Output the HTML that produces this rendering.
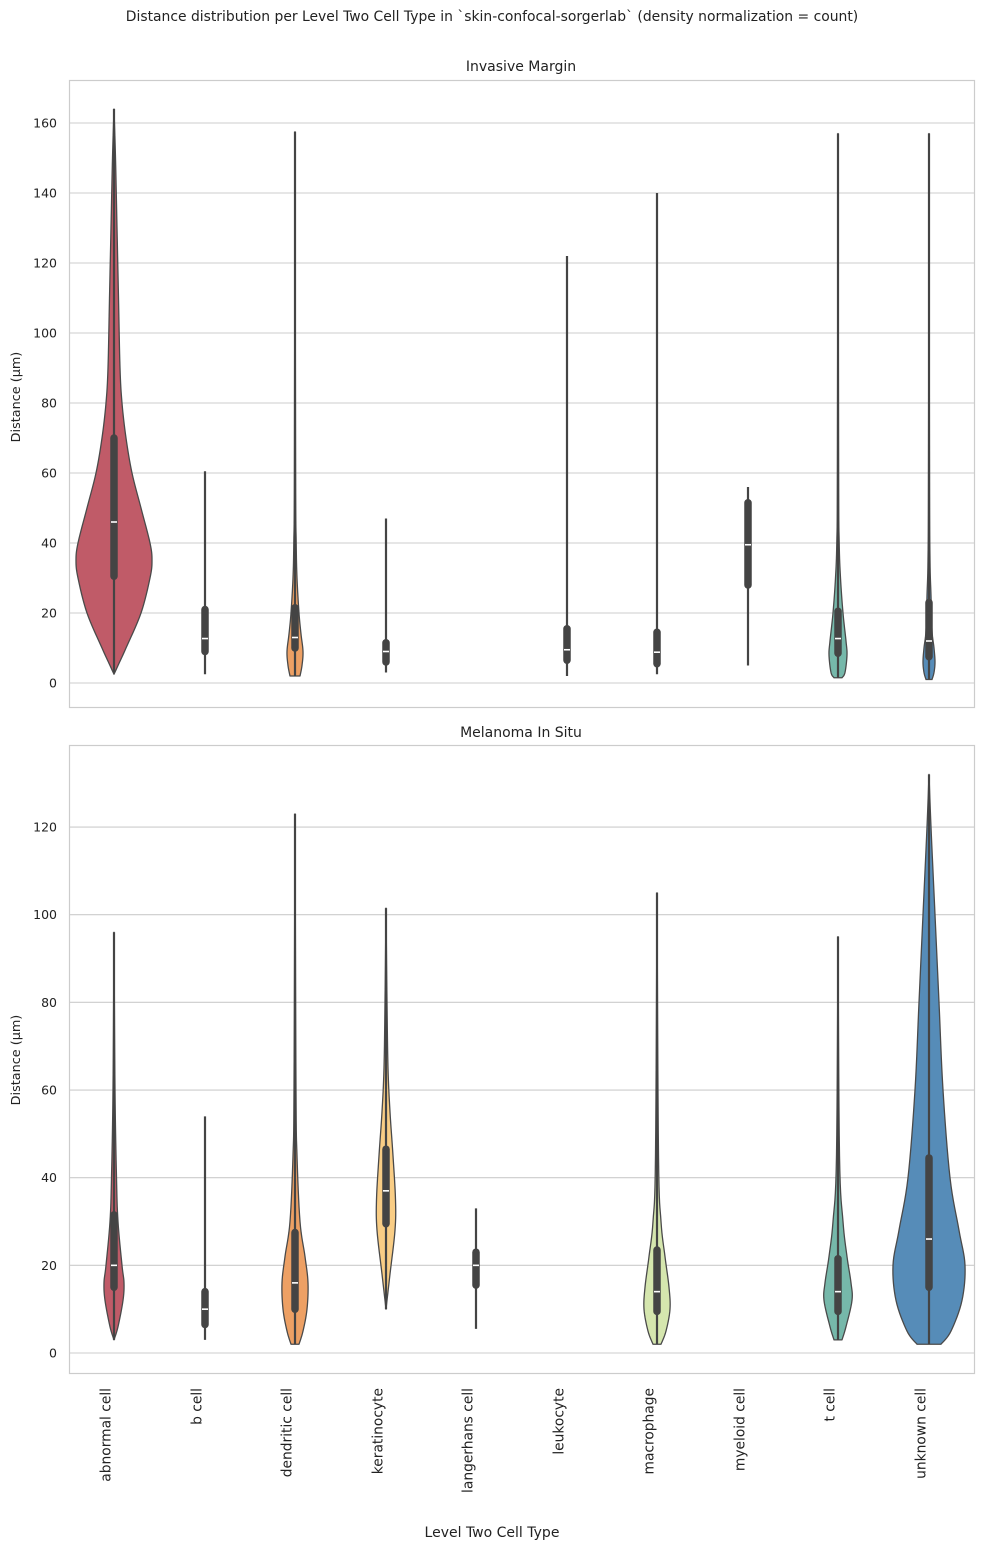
<!DOCTYPE html>
<html><head><meta charset="utf-8"><style>
body{margin:0;background:#fff;}
svg{display:block;font-family:"DejaVu Sans","Liberation Sans",sans-serif;}
</style></head><body>
<svg id="s" width="984" height="1550" xmlns="http://www.w3.org/2000/svg">
<rect width="984" height="1550" fill="#fff"/>
<text x="492" y="21" font-size="13.9" text-anchor="middle" fill="#222">Distance distribution per Level Two Cell Type in `skin-confocal-sorgerlab` (density normalization = count)</text>
<text x="521" y="71" font-size="14" text-anchor="middle" fill="#222">Invasive Margin</text>
<text x="521" y="737" font-size="14" text-anchor="middle" fill="#222">Melanoma In Situ</text>
<text x="492" y="1537" font-size="14" text-anchor="middle" fill="#222">Level Two Cell Type</text>
<text transform="translate(20,397) rotate(-90)" font-size="12.8" text-anchor="middle" fill="#222">Distance (μm)</text>
<text transform="translate(20,1060) rotate(-90)" font-size="12.8" text-anchor="middle" fill="#222">Distance (μm)</text>
<g id="g"></g>
</svg>
<script>
const NS="http://www.w3.org/2000/svg",g=document.getElementById('g');
function el(t,a,txt){const e=document.createElementNS(NS,t);for(const k in a)e.setAttribute(k,a[k]);if(txt!==undefined)e.textContent=txt;g.appendChild(e);return e;}
const xs=[114,205,295,386,476,567,657,748,838,929];
const names=["abnormal cell","b cell","dendritic cell","keratinocyte","langerhans cell","leukocyte","macrophage","myeloid cell","t cell","unknown cell"];
function panel(top,bot,y0,k,ticks,items){
  el('rect',{x:69.5,y:top+.5,width:905,height:bot-top,fill:'none',stroke:'#ccc','stroke-width':1.2});
  ticks.forEach(t=>{const y=y0-t*k;el('line',{x1:70,x2:974,y1:y,y2:y,stroke:'#ccc','stroke-width':1.1});
    el('text',{x:57,y:y+4.5,'font-size':12.5,'text-anchor':'end',fill:'#222'},t);});
  items.forEach(it=>{
    const cx=xs[it.i],Y=v=>y0-v*k;
    if(it.p){const p=it.p;
      const pts=[];for(let j=0;j<p.length-1;j++){for(let s=0;s<8;s++){const t=s/8;
        const a=p[Math.max(j-1,0)],b=p[j],c=p[j+1],d=p[Math.min(j+2,p.length-1)];
        const cr=(q0,q1,q2,q3)=>0.5*((2*q1)+(-q0+q2)*t+(2*q0-5*q1+4*q2-q3)*t*t+(-q0+3*q1-3*q2+q3)*t*t*t);
        pts.push([cr(a[0],b[0],c[0],d[0]),Math.max(0,cr(a[1],b[1],c[1],d[1]))]);}}
      pts.push(p[p.length-1]);
      let dd='M'+(cx-pts[0][1])+','+Y(pts[0][0]);
      pts.forEach(q=>dd+=' L'+(cx-q[1]).toFixed(2)+','+Y(q[0]).toFixed(2));
      for(let j=pts.length-1;j>=0;j--)dd+=' L'+(cx+pts[j][1]).toFixed(2)+','+Y(pts[j][0]).toFixed(2);
      dd+='Z';el('path',{d:dd,fill:it.c,stroke:'#4a4a4a','stroke-width':1.3,'stroke-linejoin':'round'});}
    el('line',{x1:cx,x2:cx,y1:Y(it.w[0]),y2:Y(it.w[1]),stroke:'#444','stroke-width':2.2});
    el('line',{x1:cx,x2:cx,y1:Y(it.b[0]),y2:Y(it.b[1]),stroke:'#444','stroke-width':7.5,'stroke-linecap':'round'});
    el('line',{x1:cx-3,x2:cx+3,y1:Y(it.m),y2:Y(it.m),stroke:'#fff','stroke-width':1.6});
  });
}
panel(80,707,683,3.5,[0,20,40,60,80,100,120,140,160],[
 {i:0,c:'#c05b68',w:[3,164],b:[30.5,70],m:46,p:[[2.5,0],[5,4],[10,12],[20,27],[30,36],[35,38],[40,36],[50,27],[60,18],[70,12],[80,8],[90,6],[110,4.5],[130,3],[150,1.5],[164,0]]},
 {i:1,w:[2.5,60.5],b:[9,21],m:12.7},
 {i:2,c:'#eda064',w:[2,157.5],b:[10,21.5],m:13,p:[[2,5],[5,7],[9,8],[14,6],[20,4],[30,2],[40,1.2],[60,.6],[157.5,0]]},
 {i:3,w:[3,47],b:[6,11.5],m:9},
 {i:5,w:[2,122],b:[6.5,15.5],m:9.5},
 {i:6,w:[2.5,140],b:[5.5,14.5],m:8.8},
 {i:7,w:[5,56],b:[28,51.5],m:39.5},
 {i:8,c:'#76b8aa',w:[1.5,157],b:[8.5,20.5],m:12.7,p:[[1.5,4],[3,7],[8,9],[12,8],[20,5],[30,2.5],[40,1.2],[60,.6],[157,0]]},
 {i:9,c:'#568cb8',w:[1,157],b:[7.5,23],m:12,p:[[1,3],[3,5],[6,6],[10,5],[15,3],[25,2],[35,1],[60,.5],[157,0]]}
]);
panel(745,1373,1353,4.383,[0,20,40,60,80,100,120],[
 {i:0,c:'#c05b68',w:[3,96],b:[15,31.5],m:20,p:[[3,0],[6,4],[12,9],[16,10],[20,8],[30,4],[40,2.5],[60,1],[96,0]]},
 {i:1,w:[3,54],b:[6.5,14],m:10},
 {i:2,c:'#eda064',w:[2,123],b:[10,27.5],m:16,p:[[2,4],[5,8],[10,12],[16,13],[22,10],[30,5],[45,2],[60,1],[123,0]]},
 {i:3,c:'#f9cd85',w:[10,101.5],b:[29.5,46.5],m:37,p:[[10,0],[18,4],[28,9],[35,9.5],[45,7],[55,4],[65,2],[80,1],[101.5,0]]},
 {i:4,w:[5.5,33],b:[15.5,23],m:20},
 {i:6,c:'#d5e6ae',w:[2,105],b:[9.5,23.5],m:14,p:[[2,4],[5,9],[10,13],[15,12],[22,8],[30,4],[45,1.5],[105,0]]},
 {i:8,c:'#76b8aa',w:[3,95],b:[9.5,21.5],m:14,p:[[3,4],[6,8],[12,14],[16,13],[22,9],[30,5],[45,1.5],[95,0]]},
 {i:9,c:'#568cb8',w:[2,132],b:[15,44.5],m:26,p:[[2,12],[5,22],[12,33],[20,36],[28,30],[40,21],[60,14],[80,10],[100,6],[120,2],[132,0]]}
]);
names.forEach((n,j)=>el('text',{transform:`translate(${xs[j]-3.5},1388) rotate(-90)`,'font-size':13.8,'text-anchor':'end',fill:'#222'},n));
</script>
</body></html>
